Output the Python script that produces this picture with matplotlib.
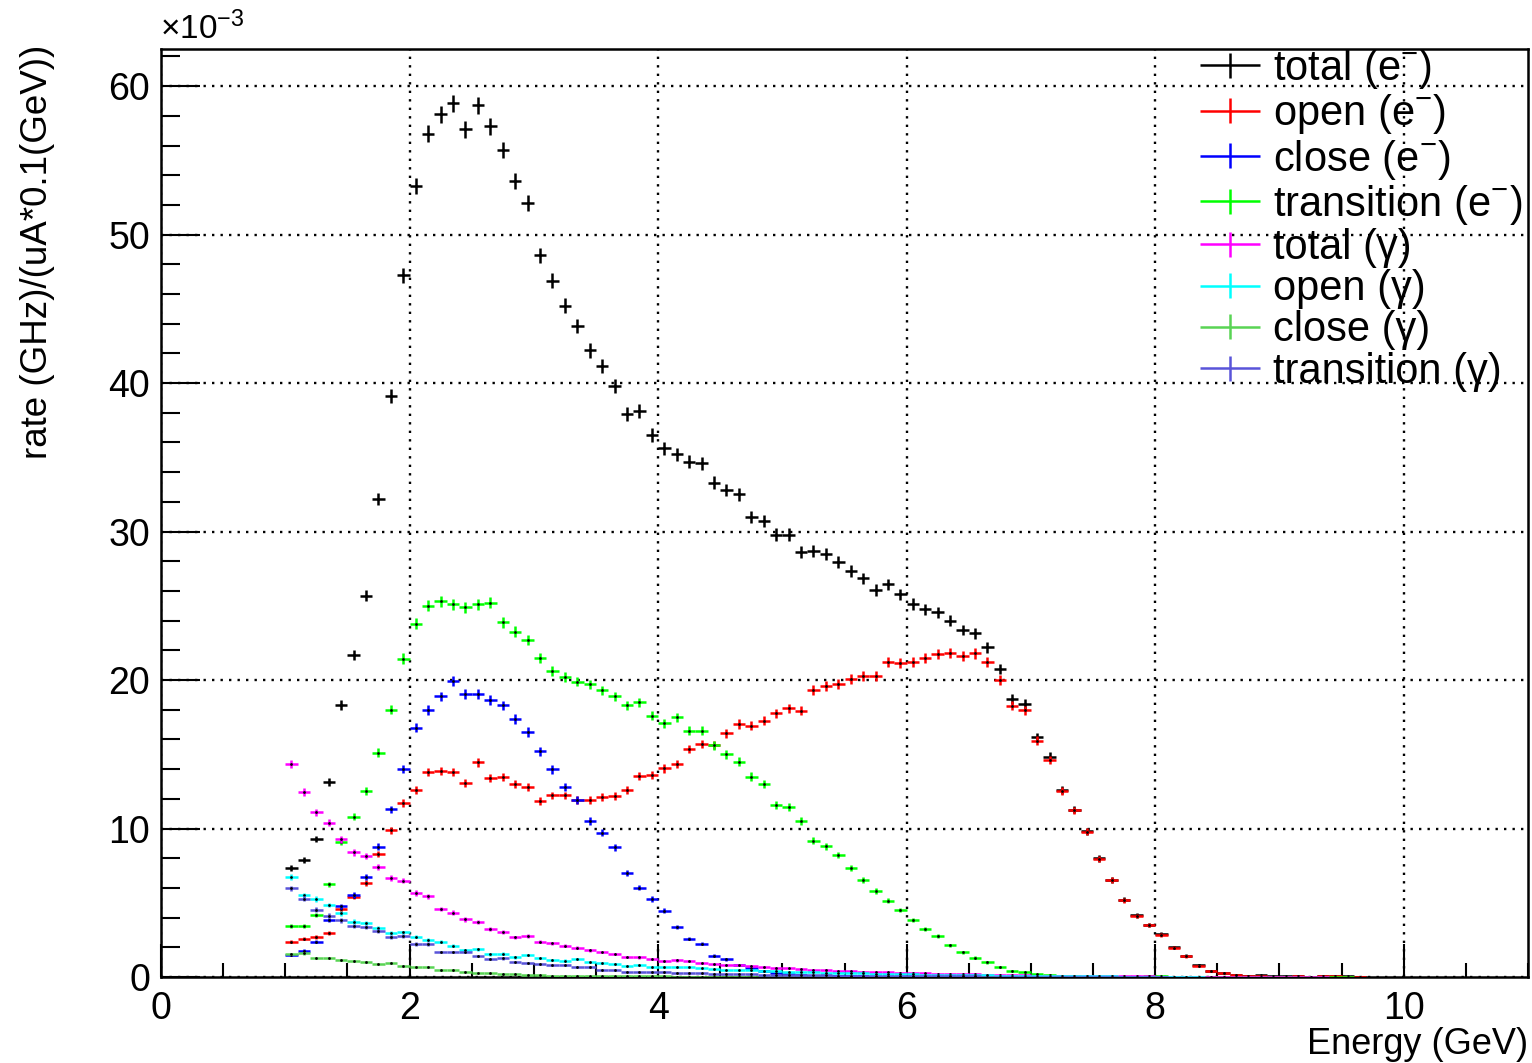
import numpy as np
import matplotlib
matplotlib.use("Agg")
import matplotlib.pyplot as plt
from matplotlib.ticker import MultipleLocator
from matplotlib.container import ErrorbarContainer
from matplotlib.legend_handler import HandlerErrorbar

plt.rcParams['font.family'] = ['Liberation Sans', 'DejaVu Sans']
plt.rcParams['mathtext.fontset'] = 'custom'
plt.rcParams['mathtext.rm'] = 'Liberation Sans'
plt.rcParams['mathtext.it'] = 'Liberation Sans:italic'
plt.rcParams['mathtext.bf'] = 'Liberation Sans:bold'

# ---------------- data (rate in units of 1e-3 GHz/(uA*0.1GeV)) ----------------
bin_edges = np.round(np.arange(1.0, 10.0001, 0.1), 2)
energy = (bin_edges[:-1] + bin_edges[1:]) / 2

total_e = [
    7.32, 7.88, 9.29, 13.15, 18.32, 21.68, 25.68, 32.19, 39.15, 47.25,
    53.27, 56.8, 58.1, 58.83, 57.08, 58.72, 57.3, 55.7, 53.6, 52.14,
    48.6, 46.9, 45.2, 43.84, 42.2, 41.17, 39.82, 37.9, 38.1, 36.5,
    35.6, 35.2, 34.7, 34.6, 33.3, 32.8, 32.5, 31.0, 30.7, 29.8,
    29.8, 28.6, 28.7, 28.5, 27.97, 27.36, 26.85, 26.06, 26.44, 25.77,
    25.12, 24.76, 24.56, 23.99, 23.37, 23.14, 22.2, 20.74, 18.74, 18.37,
    16.14, 14.84, 12.62, 11.27, 9.81, 7.99, 6.55, 5.21, 4.15, 3.52,
    2.89, 1.99, 1.43, 0.78, 0.41, 0.26, 0.15, 0.08, 0.11, 0.04,
    0.04, 0.05, 0.03, 0.06, 0.06, 0.04, 0.03, 0.0, 0.0, 0.0]

open_e = [
    2.38, 2.58, 2.71, 2.98, 4.55, 5.41, 6.33, 8.28, 9.88, 11.72,
    12.6, 13.8, 13.87, 13.8, 13.04, 14.46, 13.38, 13.45, 12.97, 12.79,
    11.85, 12.23, 12.23, 11.94, 11.94, 12.12, 12.19, 12.6, 13.54, 13.58,
    14.05, 14.34, 15.35, 15.69, 15.62, 16.4, 17.04, 16.93, 17.26, 17.76,
    18.1, 17.93, 19.33, 19.62, 19.75, 20.05, 20.27, 20.29, 21.23, 21.17,
    21.23, 21.5, 21.75, 21.84, 21.6, 21.8, 21.2, 20.0, 18.28, 17.96,
    15.91, 14.6, 12.55, 11.22, 9.78, 7.96, 6.52, 5.18, 4.12, 3.48,
    2.85, 1.96, 1.4, 0.76, 0.4, 0.25, 0.14, 0.07, 0.1, 0.03,
    0.03, 0.04, 0.02, 0.05, 0.05, 0.03, 0.02, 0.0, 0.0, 0.0]

close_e = [
    1.5, 1.77, 2.38, 3.84, 4.75, 5.52, 6.71, 8.78, 11.29, 14.0,
    16.8, 17.98, 18.9, 19.95, 19.06, 19.06, 18.65, 18.3, 17.37, 16.5,
    15.2, 13.98, 12.8, 11.9, 10.5, 9.72, 8.73, 7.02, 6.02, 5.25,
    4.47, 3.39, 2.58, 2.24, 1.44, 1.19, 0.8, 0.6, 0.4, 0.3,
    0.2, 0.15, 0.1, 0.08, 0.06, 0.05, 0.04, 0.03, 0.02, 0.02,
    0.01, 0.01, 0.01, 0.0, 0.0, 0.0, 0.0, 0.0, 0.0, 0.0,
    0.0, 0.0, 0.0, 0.0, 0.0, 0.0, 0.0, 0.0, 0.0, 0.0,
    0.0, 0.0, 0.0, 0.0, 0.0, 0.0, 0.0, 0.0, 0.0, 0.0,
    0.0, 0.0, 0.0, 0.0, 0.0, 0.0, 0.0, 0.0, 0.0, 0.0]

transition_e = [
    3.43, 3.43, 4.17, 6.24, 9.1, 10.8, 12.5, 15.1, 18.0, 21.45,
    23.8, 25.0, 25.3, 25.1, 24.9, 25.1, 25.2, 23.9, 23.25, 22.7,
    21.5, 20.6, 20.2, 19.9, 19.7, 19.3, 18.9, 18.3, 18.5, 17.6,
    17.08, 17.5, 16.6, 16.6, 15.6, 15.0, 14.5, 13.5, 13.0, 11.6,
    11.45, 10.5, 9.17, 8.8, 8.2, 7.32, 6.53, 5.79, 5.14, 4.51,
    3.84, 3.21, 2.76, 2.13, 1.66, 1.30, 0.98, 0.70, 0.42, 0.32,
    0.2, 0.16, 0.08, 0.05, 0.03, 0.03, 0.02, 0.02, 0.03, 0.04,
    0.04, 0.02, 0.02, 0.01, 0.01, 0.02, 0.02, 0.01, 0.01, 0.02,
    0.01, 0.01, 0.02, 0.01, 0.01, 0.01, 0.0, 0.0, 0.0, 0.0]

total_g = [
    14.34, 12.48, 11.09, 10.39, 9.27, 8.4, 8.17, 7.39, 6.69, 6.49,
    5.65, 5.43, 4.58, 4.33, 3.88, 3.68, 3.21, 3.01, 2.67, 2.77,
    2.38, 2.27, 2.1, 1.98, 1.8, 1.68, 1.55, 1.34, 1.33, 1.22,
    1.07, 1.12, 1.06, 0.92, 0.88, 0.84, 0.78, 0.72, 0.67, 0.62,
    0.58, 0.53, 0.5, 0.46, 0.43, 0.39, 0.36, 0.33, 0.31, 0.28,
    0.26, 0.24, 0.22, 0.2, 0.18, 0.17, 0.15, 0.14, 0.12, 0.11,
    0.1, 0.09, 0.08, 0.08, 0.07, 0.06, 0.05, 0.05, 0.04, 0.04,
    0.03, 0.03, 0.03, 0.02, 0.02, 0.02, 0.01, 0.01, 0.01, 0.01,
    0.01, 0.01, 0.01, 0.01, 0.0, 0.0, 0.0, 0.0, 0.0, 0.0]

open_g = [
    6.71, 5.5, 5.25, 4.85, 4.29, 3.73, 3.63, 3.3, 2.99, 3.0,
    2.72, 2.52, 2.38, 2.11, 1.8, 1.88, 1.52, 1.56, 1.32, 1.49,
    1.27, 1.13, 1.1, 1.23, 1.0, 0.95, 0.85, 0.73, 0.78, 0.65,
    0.65, 0.7, 0.65, 0.58, 0.52, 0.5, 0.47, 0.44, 0.42, 0.39,
    0.37, 0.35, 0.32, 0.3, 0.28, 0.26, 0.24, 0.22, 0.2, 0.19,
    0.18, 0.16, 0.15, 0.14, 0.13, 0.12, 0.11, 0.1, 0.09, 0.08,
    0.07, 0.06, 0.06, 0.05, 0.05, 0.04, 0.04, 0.03, 0.03, 0.03,
    0.02, 0.02, 0.02, 0.02, 0.0, 0.0, 0.0, 0.0, 0.0, 0.0,
    0.0, 0.0, 0.0, 0.0, 0.0, 0.0, 0.0, 0.0, 0.0, 0.0]

close_g = [
    1.55, 1.6, 1.27, 1.27, 1.14, 1.08, 1.03, 0.86, 0.95, 0.72,
    0.69, 0.68, 0.49, 0.47, 0.37, 0.3, 0.26, 0.21, 0.19, 0.15,
    0.11, 0.1, 0.09, 0.08, 0.07, 0.06, 0.06, 0.05, 0.05, 0.04,
    0.04, 0.03, 0.03, 0.03, 0.02, 0.02, 0.02, 0.02, 0.02, 0.02,
    0.02, 0.01, 0.01, 0.01, 0.01, 0.01, 0.01, 0.01, 0.01, 0.01,
    0.01, 0.01, 0.01, 0.01, 0.01, 0.01, 0.01, 0.0, 0.0, 0.0,
    0.0, 0.0, 0.0, 0.0, 0.0, 0.0, 0.0, 0.0, 0.0, 0.0,
    0.0, 0.0, 0.0, 0.0, 0.0, 0.0, 0.0, 0.0, 0.0, 0.0,
    0.0, 0.0, 0.0, 0.0, 0.0, 0.0, 0.0, 0.0, 0.0, 0.0]

transition_g = [
    5.97, 5.28, 4.54, 4.14, 3.81, 3.43, 3.35, 3.1, 2.71, 2.74,
    2.22, 2.22, 1.68, 1.68, 1.68, 1.41, 1.2, 1.26, 1.03, 0.97,
    0.9, 0.83, 0.82, 0.67, 0.65, 0.5, 0.49, 0.37, 0.35, 0.34,
    0.34, 0.3, 0.27, 0.25, 0.22, 0.2, 0.19, 0.17, 0.16, 0.15,
    0.14, 0.13, 0.12, 0.11, 0.1, 0.09, 0.08, 0.08, 0.07, 0.07,
    0.06, 0.06, 0.05, 0.05, 0.04, 0.04, 0.03, 0.03, 0.03, 0.02,
    0.02, 0.02, 0.02, 0.02, 0.01, 0.01, 0.01, 0.01, 0.01, 0.01,
    0.01, 0.0, 0.0, 0.0, 0.0, 0.0, 0.0, 0.0, 0.0, 0.0,
    0.0, 0.0, 0.0, 0.0, 0.0, 0.0, 0.0, 0.0, 0.0, 0.0]

series_labels = ["total (e$^{-}$)", "open (e$^{-}$)", "close (e$^{-}$)",
                 "transition (e$^{-}$)", "total (γ)", "open (γ)",
                 "close (γ)", "transition (γ)"]
series_values = [total_e, open_e, close_e, transition_e,
                 total_g, open_g, close_g, transition_g]
series_colors = ["#000000", "#ff0000", "#0000ff", "#00ff00",
                 "#ff00ff", "#00ffff", "#59d454", "#5954d9"]

ERR_K = 0.075  # statistical error bar scale (sqrt of content)

# ---------------- figure ----------------
W, H = 1532, 1063
fig = plt.figure(figsize=(W / 100, H / 100), dpi=100)
ax = fig.add_axes([161 / W, 1 - 977 / H, (1528 - 161) / W, (977 - 49) / H])

handles = []
for i, (vals, col) in enumerate(zip(series_values, series_colors)):
    v = np.asarray(vals, dtype=float)
    m = v > 0
    cont = ax.errorbar(energy[m], v[m], xerr=0.05, yerr=ERR_K * np.sqrt(v[m]),
                       fmt='none', ecolor=col, elinewidth=1.8, capsize=0,
                       zorder=3 + 2 * i)
    ax.plot(energy[m], v[m], 'o', ms=2.0, color='black', mew=0,
            zorder=4 + 2 * i)
    handles.append(cont)

ax.set_xlim(0, 11)
ax.set_ylim(0, 62.5)
ax.xaxis.set_major_locator(MultipleLocator(2))
ax.xaxis.set_minor_locator(MultipleLocator(0.5))
ax.yaxis.set_major_locator(MultipleLocator(10))
ax.yaxis.set_minor_locator(MultipleLocator(2))
ax.tick_params(axis='both', which='both', direction='in', top=False, right=False,
               width=1.5, labelsize=27)
ax.tick_params(axis='x', which='major', length=24, pad=10)
ax.tick_params(axis='x', which='minor', length=10)
ax.tick_params(axis='y', which='major', length=28, pad=8)
ax.tick_params(axis='y', which='minor', length=14)
for s in ax.spines.values():
    s.set_linewidth(1.8)
ax.grid(True, which='major', color='black', linestyle=(0, (1, 2.6)), linewidth=1.7)
ax.set_axisbelow(True)

fig.text(38 / W, 1 - 45 / H, "rate (GHz)/(uA*0.1(GeV))", rotation=90,
         ha='center', va='top', fontsize=26.5)
fig.text(1528 / W, 1 - 1045 / H, "Energy (GeV)", ha='right', va='center',
         fontsize=26)
fig.text(160 / W, 1 - 46 / H, "×10$^{-3}$", ha='left', va='bottom', fontsize=24)

leg = ax.legend(handles, series_labels, loc='upper left',
                bbox_to_anchor=(1200 / W, 1 - 47 / H),
                bbox_transform=fig.transFigure, frameon=False, fontsize=30,
                handlelength=1.45, handletextpad=0.3, labelspacing=0.03,
                borderpad=0, borderaxespad=0,
                handler_map={ErrorbarContainer: HandlerErrorbar(xerr_size=0.72,
                                                                yerr_size=0.3)})
leg.set_zorder(30)

fig.savefig("out.png", dpi=100)
